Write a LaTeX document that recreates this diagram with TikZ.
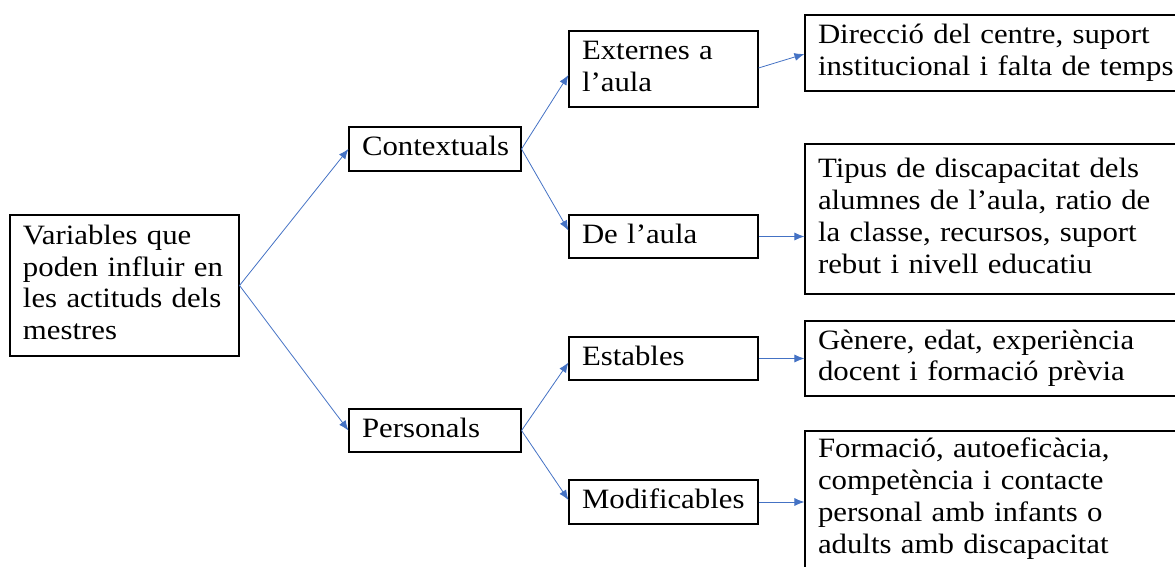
\documentclass[tikz,border=0pt]{standalone}
\usepackage{fontspec}
\setmainfont{Liberation Serif}[FakeStretch=1.1]
\usetikzlibrary{arrows.meta}
\begin{document}
\begin{tikzpicture}[x=1pt,y=1pt,
  box/.style={draw, line width=1.1pt, inner xsep=13pt, inner ysep=0pt,
    align=left, font=\fontsize{28}{31.7}\selectfont,
    execute at begin node={\rule{0pt}{20pt}},
    execute at end node={\rule[-7pt]{0pt}{7pt}}},
  deepbox/.style={box, execute at end node={\rule[-13pt]{0pt}{13pt}}},
  conn/.style={draw=arrowblue, line width=0.8pt, -{Latex[length=10pt,width=8pt]}}]
\definecolor{arrowblue}{HTML}{4472C4}
\useasboundingbox (0,0) rectangle (1175,566);
\clip (0,0) rectangle (1175,566);
\node[box, text width=203pt, minimum height=141pt] (root) at (124.5,280.5)
  {Variables que\\poden influir en\\les actituds dels\\mestres};
\node[box, text width=146pt, minimum height=44pt] (ctx) at (435,417) {Contextuals};
\node[box, text width=146pt, minimum height=43pt] (pers) at (435,135.5) {Personals};
\node[box, text width=163pt, minimum height=76pt] (ext) at (663.5,497) {Externes a\\l’aula};
\node[box, text width=163pt, minimum height=43pt] (aula) at (663.5,329.5) {De l’aula};
\node[box, text width=163pt, minimum height=43pt] (estab) at (663.5,207.5) {Estables};
\node[box, text width=163pt, minimum height=44pt] (modif) at (663.5,64) {Modificables};
\node[box, text width=369pt, minimum height=76pt] (r1) at (1002.5,513)
  {Direcció del centre, suport\\institucional i falta de temps};
\node[box, text width=369pt, minimum height=150pt] (r2) at (1002.5,347)
  {Tipus de discapacitat dels\\alumnes de l’aula, ratio de\\la classe, recursos, suport\\rebut i nivell educatiu};
\node[box, text width=369pt, minimum height=75pt] (r3) at (1002.5,207.5)
  {Gènere, edat, experiència\\docent i formació prèvia};
\node[deepbox, text width=369pt, minimum height=142pt] (r4) at (1002.5,64)
  {Formació, autoeficàcia,\\competència i contacte\\personal amb infants o\\adults amb discapacitat};
\draw[conn] (root.east) -- (ctx.west);
\draw[conn] (root.east) -- (pers.west);
\draw[conn] (ctx.east) -- ([yshift=-6pt]ext.west);
\draw[conn] (ctx.east) -- ([yshift=6pt]aula.west);
\draw[conn] (pers.east) -- ([yshift=-4pt]estab.west);
\draw[conn] (pers.east) -- ([yshift=2pt]modif.west);
\draw[conn] ([yshift=1pt]ext.east) -- ([yshift=-1pt]r1.west);
\draw[conn] (aula.east) -- (aula.east -| r2.west);
\draw[conn] (estab.east) -- (estab.east -| r3.west);
\draw[conn] (modif.east) -- (modif.east -| r4.west);
\end{tikzpicture}
\end{document}
